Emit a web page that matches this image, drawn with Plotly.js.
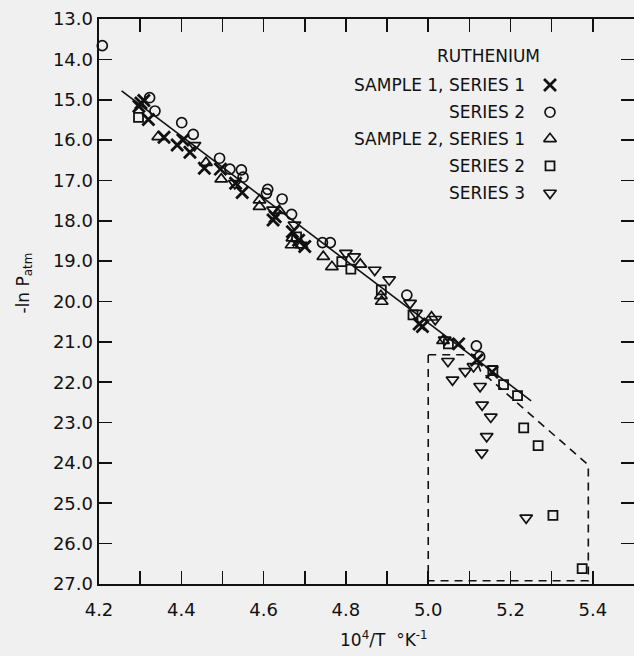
<!DOCTYPE html>
<html><head><meta charset="utf-8">
<script src="https://cdn.plot.ly/plotly-3.0.1.min.js"></script>
<style>html,body{margin:0;padding:0;background:#f0f0f0;}</style>
</head><body><div id="chart" style="width:634px;height:656px;"></div>
<script>
// Sample 1, Series 1 (x)
const s1_x = [4.302, 4.309, 4.297, 4.320, 4.358, 4.390, 4.404, 4.421, 4.456, 4.495, 4.532, 4.548, 4.623, 4.628, 4.670, 4.685, 4.700, 4.978, 4.986, 5.074, 5.118, 5.155];
const s1_y = [15.08, 15.02, 15.16, 15.49, 15.93, 16.12, 16.00, 16.30, 16.70, 16.72, 17.07, 17.30, 17.98, 17.90, 18.27, 18.48, 18.64, 20.56, 20.62, 21.05, 21.45, 21.75];
// Sample 1, Series 2 (circle)
const s2_x = [4.208, 4.323, 4.336, 4.401, 4.429, 4.493, 4.518, 4.546, 4.550, 4.610, 4.607, 4.645, 4.668, 4.743, 4.762, 4.948, 5.117, 5.125];
const s2_y = [13.66, 14.95, 15.28, 15.57, 15.86, 16.45, 16.72, 16.74, 16.92, 17.22, 17.32, 17.46, 17.84, 18.54, 18.54, 19.84, 21.10, 21.36];
// Sample 2, Series 1 (triangle up)
const s3_x = [4.344, 4.460, 4.497, 4.590, 4.590, 4.638, 4.668, 4.670, 4.692, 4.745, 4.766, 4.835, 4.885, 4.887, 5.008, 5.036];
const s3_y = [15.92, 16.56, 16.97, 17.49, 17.65, 17.75, 18.60, 18.43, 18.60, 18.89, 19.14, 19.08, 19.86, 20.00, 20.39, 20.97];
// Sample 2, Series 2 (square)
const s4_x = [4.296, 4.680, 4.790, 4.812, 4.886, 4.963, 5.049, 5.157, 5.183, 5.217, 5.232, 5.267, 5.303, 5.374];
const s4_y = [15.44, 18.40, 19.01, 19.20, 19.71, 20.33, 21.05, 21.71, 22.06, 22.33, 23.13, 23.57, 25.30, 26.62];
// Sample 2, Series 3 (triangle down)
const s5_x = [4.432, 4.530, 4.623, 4.675, 4.690, 4.800, 4.820, 4.870, 4.905, 4.956, 4.970, 5.017, 5.040, 5.048, 5.059, 5.090, 5.110, 5.126, 5.131, 5.152, 5.142, 5.130, 5.238];
const s5_y = [16.13, 17.07, 17.73, 18.10, 18.60, 18.80, 18.89, 19.22, 19.46, 20.04, 20.29, 20.44, 20.95, 21.48, 21.94, 21.73, 21.61, 22.10, 22.56, 22.86, 23.34, 23.75, 25.36];
// Fitted line
const fit_x = [4.255, 5.25];
const fit_y = [14.78, 22.46];
// Dashed boundary region
const bound_x = [5.0, 5.112, 5.127, 5.389, 5.389, 5.0, 5.0];
const bound_y = [21.32, 21.32, 21.72, 24.05, 26.92, 26.92, 21.32];
// Ticks
const xTickVals = [4.2, 4.4, 4.6, 4.8, 5.0, 5.2, 5.4];
const xTickText = ['4.2', '4.4', '4.6', '4.8', '5.0', '5.2', '5.4'];
const xMinorVals = [4.3, 4.5, 4.7, 4.9, 5.1, 5.3, 5.5];
const yTickVals = [13, 14, 15, 16, 17, 18, 19, 20, 21, 22, 23, 24, 25, 26, 27];
const yTickText = ['13.0', '14.0', '15.0', '16.0', '17.0', '18.0', '19.0', '20.0', '21.0', '22.0', '23.0', '24.0', '25.0', '26.0', '27.0'];
// Legend
const legendTitle = 'RUTHENIUM';
const legendLabels = ['SAMPLE 1, SERIES 1', 'SERIES 2', 'SAMPLE 2, SERIES 1', 'SERIES 2', 'SERIES 3'];

const INK = '#111';
const FONT = 'DejaVu Sans, sans-serif';
const symbols = ['x-thin-open', 'circle-open', 'triangle-up-open', 'square-open', 'triangle-down-open'];
const sizes = [12, 10, 11, 9, 11];
const widths = [2.8, 1.7, 1.7, 1.8, 1.7];
const series = [[s1_x, s1_y], [s2_x, s2_y], [s3_x, s3_y], [s4_x, s4_y], [s5_x, s5_y]];

const traces = [];
traces.push({x: fit_x, y: fit_y, mode: 'lines', line: {color: INK, width: 1.6}, hoverinfo: 'skip'});
traces.push({x: bound_x, y: bound_y, mode: 'lines', line: {color: INK, width: 1.6, dash: '8px,6px'}, hoverinfo: 'skip'});
series.forEach((s, i) => {
  traces.push({x: s[0], y: s[1], mode: 'markers', cliponaxis: false,
    marker: {symbol: symbols[i], size: sizes[i], color: INK, line: {color: INK, width: widths[i]}}});
});

// legend layout (paper fractions)
const legX = 0.843;
const legTextX = 0.800;
const legRowsY = [0.883, 0.835, 0.788, 0.740, 0.692];
legendLabels.forEach((lab, i) => {
  traces.push({x: [legX], y: [legRowsY[i]], xaxis: 'x2', yaxis: 'y2', mode: 'markers', cliponaxis: false,
    marker: {symbol: symbols[i], size: sizes[i], color: INK, line: {color: INK, width: widths[i]}}, hoverinfo: 'skip'});
});

const annotations = [];
annotations.push({xref: 'paper', yref: 'paper', x: 0.7275, y: 0.935, text: legendTitle, showarrow: false,
  xanchor: 'center', yanchor: 'middle', font: {family: FONT, size: 17, color: INK}});
legendLabels.forEach((lab, i) => {
  annotations.push({xref: 'paper', yref: 'paper', x: legTextX, y: legRowsY[i], text: lab, showarrow: false,
    xanchor: 'right', yanchor: 'middle', font: {family: FONT, size: 17, color: INK}});
});
annotations.push({xref: 'paper', yref: 'paper', x: -0.139, y: 0.533, text: '-ln P<sub>atm</sub>', textangle: -90,
  showarrow: false, xanchor: 'center', yanchor: 'middle', font: {family: FONT, size: 17, color: INK}});
annotations.push({xref: 'paper', yref: 'paper', x: 0.532, y: -0.097, text: '10<sup>4</sup>/T&nbsp;&nbsp;°K<sup>-1</sup>',
  showarrow: false, xanchor: 'center', yanchor: 'middle', font: {family: FONT, size: 17, color: INK}});

const tickStyle = {ticks: 'inside', ticklen: 13, tickwidth: 1.6, tickcolor: INK};
const layout = {
  width: 634, height: 656, autosize: false,
  margin: {l: 99, r: 0, t: 19, b: 72},
  paper_bgcolor: '#f0f0f0', plot_bgcolor: '#f0f0f0',
  showlegend: false,
  font: {family: FONT, color: INK},
  xaxis: Object.assign({range: [4.2, 5.5], tickmode: 'array', tickvals: xTickVals, ticktext: xTickText,
    showline: true, linewidth: 2.4, linecolor: INK,
    minor: Object.assign({tickmode: 'array', tickvals: xMinorVals, showgrid: false}, tickStyle),
    mirror: 'ticks', showgrid: false, zeroline: false, tickfont: {family: FONT, size: 18, color: INK}, ticklabelstandoff: 8}, tickStyle),
  yaxis: Object.assign({range: [27, 13], tickmode: 'array', tickvals: yTickVals, ticktext: yTickText,
    showline: true, linewidth: 2.4, linecolor: INK,
    mirror: 'ticks', showgrid: false, zeroline: false, tickfont: {family: FONT, size: 18, color: INK}}, tickStyle),
  xaxis2: {overlaying: 'x', range: [0, 1], visible: false, fixedrange: true, anchor: 'y2'},
  yaxis2: {overlaying: 'y', range: [0, 1], visible: false, fixedrange: true, anchor: 'x2'},
  annotations: annotations
};

Plotly.newPlot('chart', traces, layout, {staticPlot: true});
</script></body></html>
